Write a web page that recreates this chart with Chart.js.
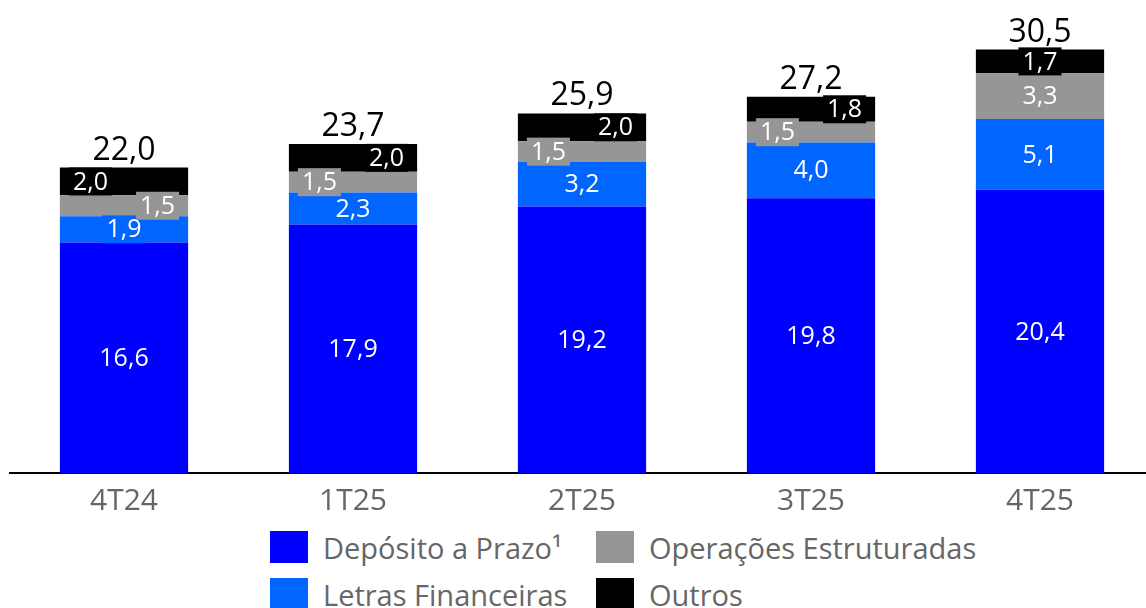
<!DOCTYPE html>
<html>
<head>
<meta charset="utf-8">
<script src="https://cdn.jsdelivr.net/npm/chart.js@4.4.1/dist/chart.umd.min.js"></script>
<style>
    html, body { margin: 0; padding: 0; background: #fff; overflow: hidden; }
    #wrap { position: relative; width: 1146px; height: 608px; overflow: hidden; }
    #box { position: absolute; left: 0; top: 0; width: 1160px; height: 521px; }
    #legend {
        position: absolute; left: 270px; top: 531px;
        display: grid; grid-template-columns: 326px 400px; grid-auto-flow: column;
        grid-template-rows: 47px 47px;
        font-family: "Open Sans", sans-serif; font-size: 29px; color: #666;
    }
    .item { display: flex; align-items: center; height: 32px; }
    .sw { width: 38px; height: 32px; margin-right: 15px; flex: none; }
</style>
</head>
<body>
<div id="wrap">
    <div id="box"><canvas id="chart"></canvas></div>
    <div id="legend"></div>
</div>
<script>
// Data
const categories = ['4T24', '1T25', '2T25', '3T25', '4T25'];
const deposito = [16.6, 17.9, 19.2, 19.8, 20.4];
const letras = [1.9, 2.3, 3.2, 4.0, 5.1];
const operacoes = [1.5, 1.5, 1.5, 1.5, 3.3];
const outros = [2.0, 2.0, 2.0, 1.8, 1.7];
const totals = [22.0, 23.7, 25.9, 27.2, 30.5];

const seriesNames = ['Depósito a Prazo¹', 'Letras Financeiras', 'Operações Estruturadas', 'Outros'];
const seriesColors = ['#0000ff', '#0066ff', '#969696', '#000000'];

// label placement inside segments: -1 left, 0 center, 1 right
const labelAlign = [
    [0, 0, 0, 0, 0],
    [0, 0, 0, 0, 0],
    [1, -1, -1, -1, 0],
    [-1, 1, 1, 1, 0]
];

const fmt = v => v.toFixed(1).replace('.', ',');

// Draw values inside the segments and totals on top
const labelPlugin = {
    id: 'segLabels',
    afterDatasetsDraw(chart) {
        const ctx = chart.ctx;
        ctx.save();
        ctx.textBaseline = 'middle';
        ctx.textAlign = 'center';
        chart.data.datasets.forEach((ds, i) => {
            const meta = chart.getDatasetMeta(i);
            ctx.font = '25px "Open Sans", sans-serif';
            meta.data.forEach((bar, j) => {
                const text = fmt(ds.data[j]);
                const tw = ctx.measureText(text).width;
                const bw = tw + 8;
                const bh = 28;
                const half = bar.width / 2;
                let x = bar.x;
                if (labelAlign[i][j] < 0) x = bar.x - half + 13 + tw / 2;
                if (labelAlign[i][j] > 0) x = bar.x + half - 13 - tw / 2;
                const y = (bar.y + bar.base) / 2;
                ctx.fillStyle = seriesColors[i];
                ctx.fillRect(x - bw / 2, y - bh / 2, bw, bh);
                ctx.fillStyle = '#fff';
                ctx.fillText(text, x, y + 1);
            });
        });
        const top = chart.getDatasetMeta(chart.data.datasets.length - 1);
        ctx.font = '32px "Open Sans", sans-serif';
        ctx.fillStyle = '#000';
        ctx.textBaseline = 'alphabetic';
        top.data.forEach((bar, j) => {
            ctx.fillText(fmt(totals[j]), bar.x, bar.y - 8);
        });
        ctx.restore();
    }
};

const datasets = [deposito, letras, operacoes, outros].map((d, i) => ({
    label: seriesNames[i],
    data: d,
    backgroundColor: seriesColors[i],
    borderWidth: 0,
    barPercentage: 0.56,
    categoryPercentage: 1
}));

new Chart(document.getElementById('chart'), {
    type: 'bar',
    data: { labels: categories, datasets: datasets },
    options: {
        responsive: true,
        maintainAspectRatio: false,
        animation: false,
        layout: { padding: { left: 9.5, right: 5.5, top: 1, bottom: 0 } },
        plugins: { legend: { display: false }, tooltip: { enabled: false } },
        scales: {
            x: {
                stacked: true,
                grid: { display: false },
                border: { color: '#000', width: 2 },
                ticks: { color: '#666', font: { family: 'Open Sans', size: 30 }, padding: 2 }
            },
            y: {
                stacked: true,
                display: false,
                min: 0,
                max: 34
            }
        }
    },
    plugins: [labelPlugin]
});

// Legend, two columns
const legend = document.getElementById('legend');
[0, 1, 2, 3].forEach(i => {
    const item = document.createElement('div');
    item.className = 'item';
    item.innerHTML = `<span class="sw" style="background:${seriesColors[i]}"></span><span>${seriesNames[i]}</span>`;
    legend.appendChild(item);
});
</script>
</body>
</html>
